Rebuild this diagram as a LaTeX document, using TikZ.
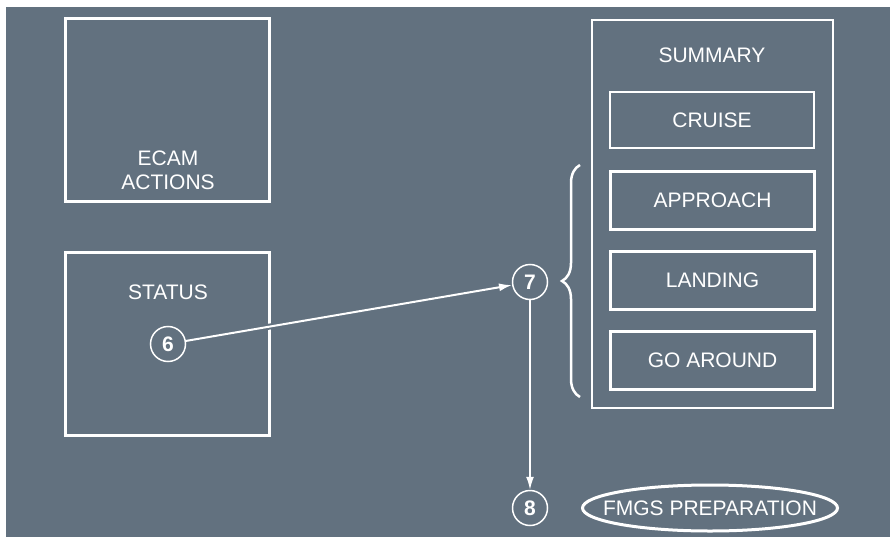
\documentclass[tikz,border=0pt]{standalone}
\usepackage{fontspec}
\setmainfont{Liberation Sans}
\usetikzlibrary{arrows.meta,shapes.geometric,decorations.pathreplacing}
\definecolor{slate}{RGB}{98,113,127}
\begin{document}
\begin{tikzpicture}[x=1pt,y=-1pt,>={Latex[length=13pt,width=8pt]},
        font=\fontsize{21}{24}\selectfont,
        every node/.style={text=white},
        bigbox/.style={draw=white,line width=3pt,minimum width=204pt,minimum height=183pt,inner sep=0pt},
        phase/.style={draw=white,line width=3pt,minimum width=204pt,minimum height=58pt,inner sep=0pt},
        numc/.style={circle,draw=white,line width=1.5pt,minimum size=35pt,inner sep=0pt,
            font=\fontsize{21}{24}\selectfont\bfseries}]
    \useasboundingbox (0,0) rectangle (890,537);
    \fill[slate] (6,7) rectangle (890,537);
    %===========================================
    \node[bigbox] (ecam) at (167.5,110) {};
    \node[align=center] (ecamtxt) at (168,170) {ECAM\\ACTIONS};
    \node[bigbox] (status) at (167.5,344) {};
    \node (statustxt) at (168,292) {STATUS};
    \node[numc] (n6) at (168,344) {6};
    %===========================================
    \node[draw=white,line width=2pt,minimum width=241pt,minimum height=388pt,inner sep=0pt] (summary) at (712.5,214) {};
    \node (summarytxt) at (712,55) {SUMMARY};
    \node[phase,line width=2pt,minimum height=56pt] (cruise) at (712,120) {CRUISE};
    \foreach \nm/\txt [count=\i] in {app/APPROACH,lnd/LANDING,goa/GO AROUND}
        \node[phase] (\nm) at (712.5,{120.5+80*\i}) {\txt};
    \draw[white,line width=2.5pt,decorate,decoration={brace,amplitude=18pt}] (580,397) -- (580,165);
    %===========================================
    \node[numc] (n7) at (530,282) {7};
    \node[numc] (n8) at (530,508) {8};
    \node[ellipse,draw=white,line width=3pt,minimum width=255pt,minimum height=46pt,inner sep=0pt] (fmgs) at (710,508) {};
    \node (fmgstxt) at (710,508) {FMGS PREPARATION};
    \draw[->,white,line width=2pt,preaction={draw=slate,line width=6pt,-,shorten <=3pt,shorten >=16pt}] (n6) -- (n7);
    \draw[->,white,line width=1.5pt] (n7) -- (n8);
\end{tikzpicture}
\end{document}
